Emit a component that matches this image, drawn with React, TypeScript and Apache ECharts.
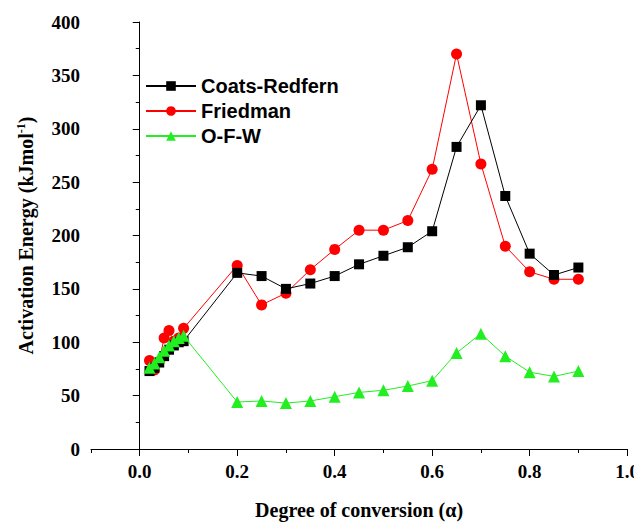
import React, { useEffect, useRef } from "react";
import * as echarts from "echarts";

const alpha = [0.02, 0.03, 0.04, 0.05, 0.06, 0.07, 0.08, 0.09, 0.2, 0.25, 0.3, 0.35, 0.4, 0.45, 0.5, 0.55, 0.6, 0.65, 0.7, 0.75, 0.8, 0.85, 0.9];
const coatsRedfern = [73, 76, 81, 87, 93, 97, 100, 101, 165, 162, 150, 155, 162, 173, 181, 189, 204, 283, 322, 237, 183, 163, 170];
const friedman = [83, 74, 82, 104, 111, 101, 104, 113, 172, 135, 146, 168, 187, 205, 205, 214, 262, 370, 267, 190, 166, 159, 159];
const ofw = [76, 80, 86, 92, 97, 101, 104, 106, 44, 45, 43, 45, 49, 53, 55, 59, 64, 90, 108, 87, 72, 68, 73];
const xMajorTicks = [0, 0.2, 0.4, 0.6, 0.8, 1.0];

const serif = "'Liberation Serif', 'Times New Roman', serif";
const sans = "'Liberation Sans', Arial, sans-serif";

export default function App() {
  const ref = useRef<HTMLDivElement>(null);
  useEffect(() => {
    if (!ref.current) return;
    const chart = echarts.init(ref.current, null, { renderer: "svg" });
    const pair = (ys: number[]) => alpha.map((a, i) => [a, ys[i]]);
    chart.setOption({
      animation: false,
      backgroundColor: "#fff",
      grid: { left: 91, right: 12, top: 22, bottom: 70, containLabel: false },
      legend: {
        orient: "vertical",
        left: 140,
        top: 71,
        itemWidth: 50,
        itemHeight: 12,
        itemGap: 5,
        textStyle: { fontFamily: sans, fontWeight: "bold", fontSize: 20, color: "#000" },
        data: ["Coats-Redfern", "Friedman", "O-F-W"],
      },
      xAxis: [
        {
          type: "value",
          min: -0.1,
          max: 1.0,
          interval: 0.1,
          position: "bottom",
          splitLine: { show: false },
          axisLine: { onZero: false, lineStyle: { color: "#000", width: 1 } },
          axisTick: { show: true, length: 4, lineStyle: { color: "#000" } },
          axisLabel: {
            fontFamily: serif,
            fontWeight: "bold",
            fontSize: 19,
            color: "#000",
            margin: 13,
            formatter: (v: number) => {
              const k = Math.round(v * 10);
              return k >= 0 && k % 2 === 0 ? (k / 10).toFixed(1) : "";
            },
          },
          name: "Degree of conversion (α)",
          nameLocation: "middle",
          nameGap: 51,
          nameTextStyle: { fontFamily: serif, fontWeight: "bold", fontSize: 20, color: "#000" },
        },
        {
          type: "value",
          min: -0.1,
          max: 1.0,
          position: "bottom",
          splitLine: { show: false },
          axisLine: { show: false, onZero: false },
          axisTick: { show: true, length: 7, customValues: xMajorTicks, lineStyle: { color: "#000" } },
          axisLabel: { show: false },
        },
      ],
      yAxis: {
        type: "value",
        min: 0,
        max: 400,
        interval: 50,
        splitLine: { show: false },
        axisLine: { show: true, lineStyle: { color: "#000", width: 1 } },
        axisTick: { show: true, length: 7, lineStyle: { color: "#000" } },
        minorTick: { show: true, splitNumber: 2, length: 4, lineStyle: { color: "#000" } },
        axisLabel: { fontFamily: serif, fontWeight: "bold", fontSize: 19, color: "#000", margin: 11 },
        name: "{a|Activation Energy (kJmol}{s|-1}{a|)}",
        nameLocation: "middle",
        nameGap: 55,
        nameTextStyle: {
          rich: {
            a: { fontFamily: serif, fontWeight: "bold", fontSize: 20, color: "#000" },
            s: { fontFamily: serif, fontWeight: "bold", fontSize: 12, color: "#000", verticalAlign: "top", padding: [0, 0, 9, 0] },
          },
        },
      },
      series: [
        {
          name: "Coats-Redfern",
          type: "line",
          data: pair(coatsRedfern),
          symbol: "rect",
          symbolSize: 10,
          itemStyle: { color: "#000" },
          lineStyle: { color: "#000", width: 1 },
          z: 3,
        },
        {
          name: "Friedman",
          type: "line",
          data: pair(friedman),
          symbol: "circle",
          symbolSize: 11,
          itemStyle: { color: "#ff0000" },
          lineStyle: { color: "#ff0000", width: 1 },
          z: 2,
        },
        {
          name: "O-F-W",
          type: "line",
          data: pair(ofw),
          symbol: "triangle",
          symbolSize: 12,
          itemStyle: { color: "#22ee22" },
          lineStyle: { color: "#22ee22", width: 1 },
          z: 4,
        },
      ],
    });
    return () => chart.dispose();
  }, []);
  return <div ref={ref} style={{ width: 642, height: 525, marginLeft: -8, marginTop: -8 }} />;
}
